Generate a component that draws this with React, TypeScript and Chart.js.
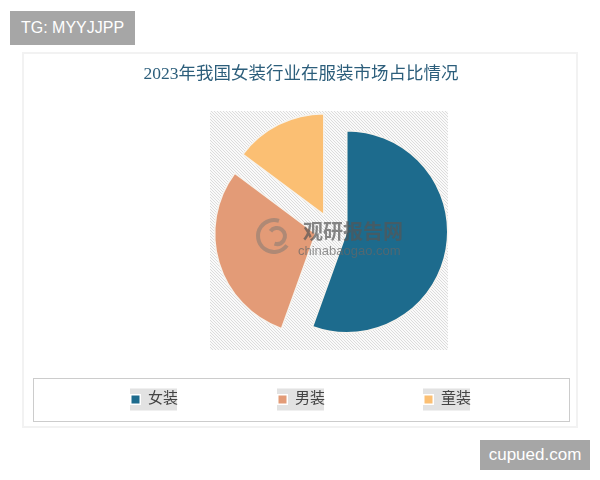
import React, { useEffect, useRef } from "react";
import { Chart, registerables } from "chart.js";

Chart.register(...registerables);

const TITLE = "2023年我国女装行业在服装市场占比情况";
const categories = ["女装", "男装", "童装"];
const shares = [55.5, 29.7, 14.8];
const sliceColors = ["#1d6b8d", "#e39b77", "#fbbf73"];
const WATERMARK_CN = "观研报告网";
const WATERMARK_EN = "chinabaogao.com";
const TAG_TOP = "TG: MYYJJPP";
const TAG_BOTTOM = "cupued.com";

const CJK = '"Liberation Serif", "Noto Sans CJK SC", serif';
const EXPLODE_PX = 16;

// pulls every slice out by the same distance along its mid-angle, keeping its radius
const explodePlugin = {
  id: "explode",
  beforeDatasetDraw(chart: any, args: any) {
    const ctx = chart.ctx as CanvasRenderingContext2D;
    const arcs = args.meta.data;
    arcs.forEach((arc: any) => {
      const half = (arc.startAngle + arc.endAngle) / 2;
      ctx.save();
      ctx.translate(Math.cos(half) * EXPLODE_PX, Math.sin(half) * EXPLODE_PX);
      arc.draw(ctx);
      ctx.restore();
    });
    return false;
  },
};

const decorPlugin = {
  id: "decor",
  beforeDraw(chart: any) {
    const ctx = chart.ctx as CanvasRenderingContext2D;
    ctx.save();
    ctx.fillStyle = "#ffffff";
    ctx.fillRect(0, 0, chart.width, chart.height);
    // card
    ctx.strokeStyle = "#f2f2f2";
    ctx.lineWidth = 2;
    ctx.strokeRect(23, 53, 554, 374);
    // hatched plot background
    const x0 = 210, y0 = 111, w = 238, h = 239;
    ctx.beginPath();
    ctx.rect(x0, y0, w, h);
    ctx.clip();
    ctx.fillStyle = "#fafafa";
    ctx.fillRect(x0, y0, w, h);
    ctx.strokeStyle = "#dcdcdc";
    ctx.lineWidth = 1;
    ctx.beginPath();
    for (let k = -h; k < w + 3; k += 3) {
      ctx.moveTo(x0 + k, y0);
      ctx.lineTo(x0 + k + h, y0 + h);
    }
    ctx.stroke();
    ctx.restore();
  },
  afterDraw(chart: any) {
    const ctx = chart.ctx as CanvasRenderingContext2D;
    ctx.save();
    // watermark
    ctx.globalAlpha = 0.6;
    ctx.strokeStyle = "#8c7d74";
    ctx.lineWidth = 4;
    ctx.beginPath();
    ctx.arc(274, 236, 16, Math.PI * 0.2, Math.PI * 1.6);
    ctx.stroke();
    ctx.beginPath();
    ctx.arc(277, 236, 8, Math.PI * 1.2, Math.PI * 2.6);
    ctx.stroke();
    ctx.globalAlpha = 0.7;
    ctx.fillStyle = "#555555";
    ctx.textAlign = "left";
    ctx.textBaseline = "middle";
    ctx.font = 'bold 20px "Noto Sans CJK SC", sans-serif';
    ctx.fillText(WATERMARK_CN, 303, 231);
    ctx.font = '13px "Liberation Sans", sans-serif';
    ctx.fillStyle = "#666666";
    ctx.fillText(WATERMARK_EN, 298, 251);
    ctx.globalAlpha = 1;

    // title
    ctx.fillStyle = "#2c5e7b";
    ctx.textAlign = "center";
    ctx.textBaseline = "middle";
    ctx.font = "17.5px " + CJK;
    ctx.fillText(TITLE, 301, 74);

    // legend box
    ctx.strokeStyle = "#cccccc";
    ctx.lineWidth = 1;
    ctx.strokeRect(33.5, 378.5, 536, 43);
    const labels: string[] = chart.data.labels;
    const colors: string[] = chart.data.datasets[0].backgroundColor;
    const centers = [135, 282, 428];
    ctx.font = "15px " + CJK;
    labels.forEach((lab, i) => {
      const mx = centers[i];
      const my = 399.5;
      const tw = ctx.measureText(lab).width;
      ctx.fillStyle = "#e2e2e2";
      ctx.fillRect(mx - 5, my - 11, 13 + tw + 4, 22);
      ctx.fillStyle = "#ffffff";
      ctx.fillRect(mx - 5, my - 5.5, 11, 11);
      ctx.fillStyle = colors[i];
      ctx.fillRect(mx - 3.5, my - 4, 8, 8);
      ctx.fillStyle = "#444444";
      ctx.textAlign = "left";
      ctx.fillText(lab, mx + 13, my);
    });
    ctx.restore();
  },
};

export default function App() {
  const ref = useRef<HTMLCanvasElement | null>(null);
  useEffect(() => {
    if (!ref.current) return;
    const chart = new Chart(ref.current, {
      type: "pie",
      data: {
        labels: categories,
        datasets: [
          {
            data: shares,
            backgroundColor: sliceColors,
            borderColor: "#f6f3ee",
            borderWidth: 1.5,
            offset: 0,
            hoverOffset: 0,
            radius: 101,
          } as any,
        ],
      },
      options: {
        responsive: false,
        maintainAspectRatio: false,
        animation: false,
        layout: { padding: { left: 212, right: 150, top: 110, bottom: 132 } },
        plugins: {
          legend: { display: false },
          title: { display: false },
          tooltip: { enabled: false },
        },
      },
      plugins: [decorPlugin, explodePlugin],
    });
    return () => chart.destroy();
  }, []);

  const tag: React.CSSProperties = {
    position: "absolute",
    background: "#a6a6a6",
    color: "#ffffff",
    fontFamily: '"Liberation Sans", Arial, sans-serif',
    fontSize: 16,
    display: "flex",
    alignItems: "center",
    justifyContent: "center",
  };

  return (
    <div style={{ position: "absolute", left: 0, top: 0, width: 600, height: 480, background: "#fff" }}>
      <canvas ref={ref} width={600} height={480} style={{ width: 600, height: 480, display: "block" }} />
      <div style={{ ...tag, left: 10, top: 11, width: 125, height: 34 }}>{TAG_TOP}</div>
      <div style={{ ...tag, left: 480, top: 440, width: 110, height: 30, fontSize: 17 }}>{TAG_BOTTOM}</div>
    </div>
  );
}
